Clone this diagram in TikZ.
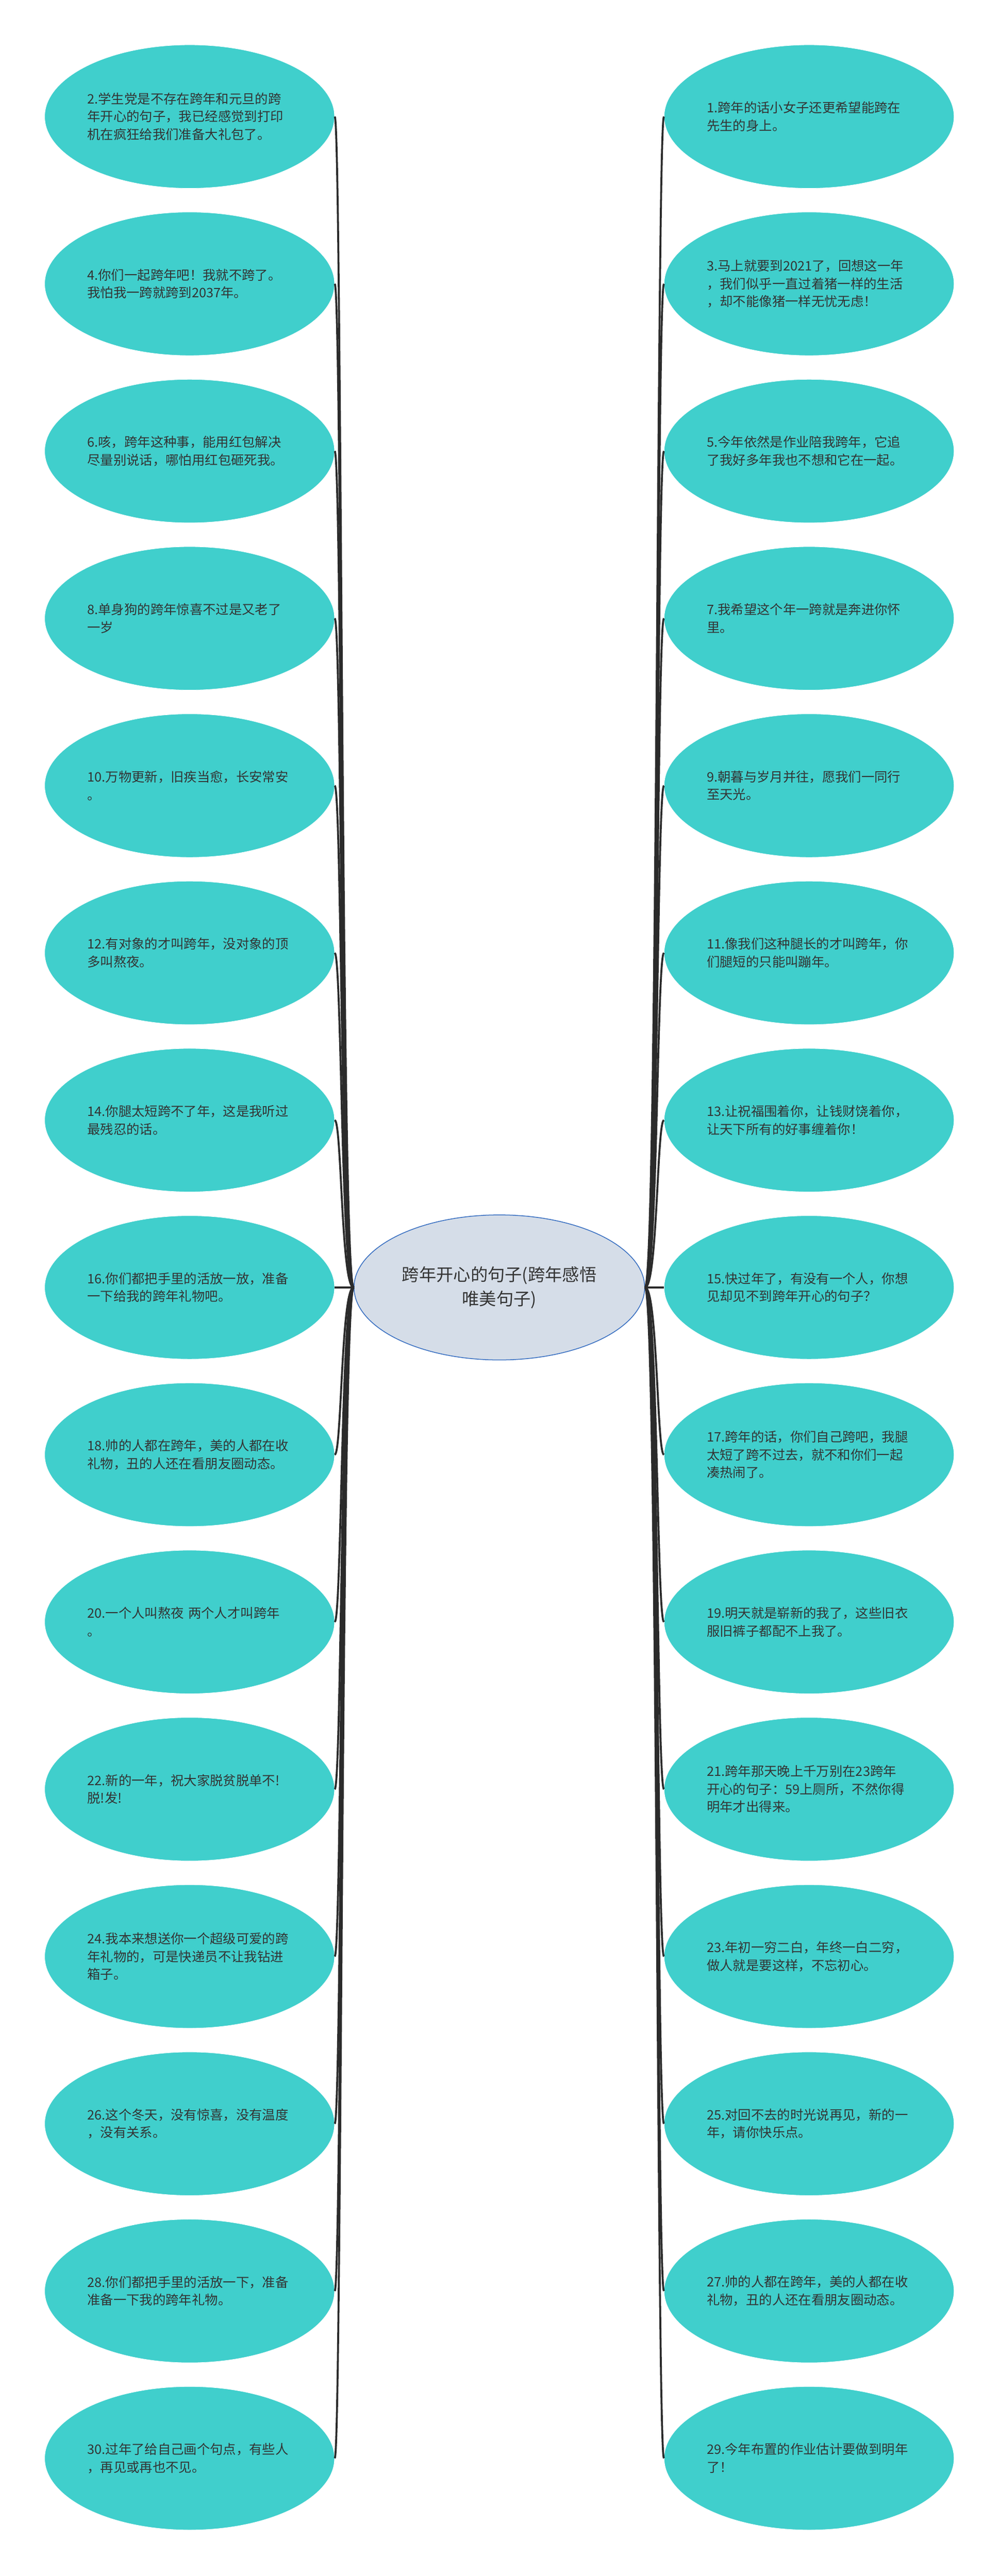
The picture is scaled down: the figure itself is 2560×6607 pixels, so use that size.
\documentclass[tikz,border=0pt]{standalone}
\usepackage{fontspec}
\setmainfont{Noto Sans CJK SC}
\usetikzlibrary{shapes.geometric}
\definecolor{leaffill}{RGB}{64,207,204}
\definecolor{rootfill}{RGB}{213,221,232}
\definecolor{rootline}{RGB}{52,108,192}
\definecolor{inktext}{RGB}{51,51,51}
\definecolor{inkline}{RGB}{43,43,43}

\begin{document}
\begin{tikzpicture}[x=1pt,y=1pt,yscale=-1,xscale=1,
  leafnode/.style={ellipse,fill=leaffill,draw=white,line width=1pt,
    minimum width=743pt,minimum height=368pt,inner sep=0pt,
    text width=524pt,align=left,text=inktext,
    font=\fontsize{33.5}{45.6}\selectfont},
  rootnode/.style={ellipse,fill=rootfill,draw=rootline,line width=2pt,
    minimum width=745pt,minimum height=372pt,inner sep=0pt,
    text width=520pt,align=center,text=inktext,
    font=\fontsize{44}{62}\selectfont},
  linkline/.style={draw=inkline,line width=5pt}]
\path[fill=white,use as bounding box] (0,0) rectangle (2560,6607);

%Shape: Ellipse [root]
\node[rootnode] (root) at (1280,3302) {跨年开心的句子(跨年感悟\\唯美句子)};

%Shape: Ellipse [left]
\node[leafnode] (l1) at (486,299) {2.学生党是不存在跨年和元旦的跨\\年开心的句子，我已经感觉到打印\\机在疯狂给我们准备大礼包了。};
\node[leafnode] (l2) at (486,728) {4.你们一起跨年吧！我就不跨了。\\我怕我一跨就跨到2037年。};
\node[leafnode] (l3) at (486,1157) {6.咳，跨年这种事，能用红包解决\\尽量别说话，哪怕用红包砸死我。};
\node[leafnode] (l4) at (486,1586) {8.单身狗的跨年惊喜不过是又老了\\一岁};
\node[leafnode] (l5) at (486,2015) {10.万物更新，旧疾当愈，长安常安\\。};
\node[leafnode] (l6) at (486,2444) {12.有对象的才叫跨年，没对象的顶\\多叫熬夜。};
\node[leafnode] (l7) at (486,2873) {14.你腿太短跨不了年，这是我听过\\最残忍的话。};
\node[leafnode] (l8) at (486,3302) {16.你们都把手里的活放一放，准备\\一下给我的跨年礼物吧。};
\node[leafnode] (l9) at (486,3731) {18.帅的人都在跨年，美的人都在收\\礼物，丑的人还在看朋友圈动态。};
\node[leafnode] (l10) at (486,4160) {20.一个人叫熬夜 两个人才叫跨年\\。};
\node[leafnode] (l11) at (486,4589) {22.新的一年，祝大家脱贫脱单不!\\脱!发!};
\node[leafnode] (l12) at (486,5018) {24.我本来想送你一个超级可爱的跨\\年礼物的，可是快递员不让我钻进\\箱子。};
\node[leafnode] (l13) at (486,5447) {26.这个冬天，没有惊喜，没有温度\\，没有关系。};
\node[leafnode] (l14) at (486,5876) {28.你们都把手里的活放一下，准备\\准备一下我的跨年礼物。};
\node[leafnode] (l15) at (486,6305) {30.过年了给自己画个句点，有些人\\，再见或再也不见。};

%Shape: Ellipse [right]
\node[leafnode] (r1) at (2074,299) {1.跨年的话小女子还更希望能跨在\\先生的身上。};
\node[leafnode] (r2) at (2074,728) {3.马上就要到2021了，回想这一年\\，我们似乎一直过着猪一样的生活\\，却不能像猪一样无忧无虑！};
\node[leafnode] (r3) at (2074,1157) {5.今年依然是作业陪我跨年，它追\\了我好多年我也不想和它在一起。};
\node[leafnode] (r4) at (2074,1586) {7.我希望这个年一跨就是奔进你怀\\里。};
\node[leafnode] (r5) at (2074,2015) {9.朝暮与岁月并往，愿我们一同行\\至天光。};
\node[leafnode] (r6) at (2074,2444) {11.像我们这种腿长的才叫跨年，你\\们腿短的只能叫蹦年。};
\node[leafnode] (r7) at (2074,2873) {13.让祝福围着你，让钱财饶着你，\\让天下所有的好事缠着你！};
\node[leafnode] (r8) at (2074,3302) {15.快过年了，有没有一个人，你想\\见却见不到跨年开心的句子？};
\node[leafnode] (r9) at (2074,3731) {17.跨年的话，你们自己跨吧，我腿\\太短了跨不过去，就不和你们一起\\凑热闹了。};
\node[leafnode] (r10) at (2074,4160) {19.明天就是崭新的我了，这些旧衣\\服旧裤子都配不上我了。};
\node[leafnode] (r11) at (2074,4589) {21.跨年那天晚上千万别在23跨年\\开心的句子：59上厕所，不然你得\\明年才出得来。};
\node[leafnode] (r12) at (2074,5018) {23.年初一穷二白，年终一白二穷，\\做人就是要这样，不忘初心。};
\node[leafnode] (r13) at (2074,5447) {25.对回不去的时光说再见，新的一\\年，请你快乐点。};
\node[leafnode] (r14) at (2074,5876) {27.帅的人都在跨年，美的人都在收\\礼物，丑的人还在看朋友圈动态。};
\node[leafnode] (r15) at (2074,6305) {29.今年布置的作业估计要做到明年\\了！};

%Curve Lines [left]
\draw[linkline] (root.west) .. controls +(-32,0) and +(18,0) .. (l1.east);
\draw[linkline] (root.west) .. controls +(-32,0) and +(18,0) .. (l2.east);
\draw[linkline] (root.west) .. controls +(-32,0) and +(18,0) .. (l3.east);
\draw[linkline] (root.west) .. controls +(-32,0) and +(18,0) .. (l4.east);
\draw[linkline] (root.west) .. controls +(-32,0) and +(18,0) .. (l5.east);
\draw[linkline] (root.west) .. controls +(-32,0) and +(18,0) .. (l6.east);
\draw[linkline] (root.west) .. controls +(-32,0) and +(18,0) .. (l7.east);
%Straight Lines
\draw[linkline] (root.west) -- (l8.east);
\draw[linkline] (root.west) .. controls +(-32,0) and +(18,0) .. (l9.east);
\draw[linkline] (root.west) .. controls +(-32,0) and +(18,0) .. (l10.east);
\draw[linkline] (root.west) .. controls +(-32,0) and +(18,0) .. (l11.east);
\draw[linkline] (root.west) .. controls +(-32,0) and +(18,0) .. (l12.east);
\draw[linkline] (root.west) .. controls +(-32,0) and +(18,0) .. (l13.east);
\draw[linkline] (root.west) .. controls +(-32,0) and +(18,0) .. (l14.east);
\draw[linkline] (root.west) .. controls +(-32,0) and +(18,0) .. (l15.east);

%Curve Lines [right]
\draw[linkline] (root.east) .. controls +(32,0) and +(-18,0) .. (r1.west);
\draw[linkline] (root.east) .. controls +(32,0) and +(-18,0) .. (r2.west);
\draw[linkline] (root.east) .. controls +(32,0) and +(-18,0) .. (r3.west);
\draw[linkline] (root.east) .. controls +(32,0) and +(-18,0) .. (r4.west);
\draw[linkline] (root.east) .. controls +(32,0) and +(-18,0) .. (r5.west);
\draw[linkline] (root.east) .. controls +(32,0) and +(-18,0) .. (r6.west);
\draw[linkline] (root.east) .. controls +(32,0) and +(-18,0) .. (r7.west);
%Straight Lines
\draw[linkline] (root.east) -- (r8.west);
\draw[linkline] (root.east) .. controls +(32,0) and +(-18,0) .. (r9.west);
\draw[linkline] (root.east) .. controls +(32,0) and +(-18,0) .. (r10.west);
\draw[linkline] (root.east) .. controls +(32,0) and +(-18,0) .. (r11.west);
\draw[linkline] (root.east) .. controls +(32,0) and +(-18,0) .. (r12.west);
\draw[linkline] (root.east) .. controls +(32,0) and +(-18,0) .. (r13.west);
\draw[linkline] (root.east) .. controls +(32,0) and +(-18,0) .. (r14.west);
\draw[linkline] (root.east) .. controls +(32,0) and +(-18,0) .. (r15.west);
\end{tikzpicture}
\end{document}
